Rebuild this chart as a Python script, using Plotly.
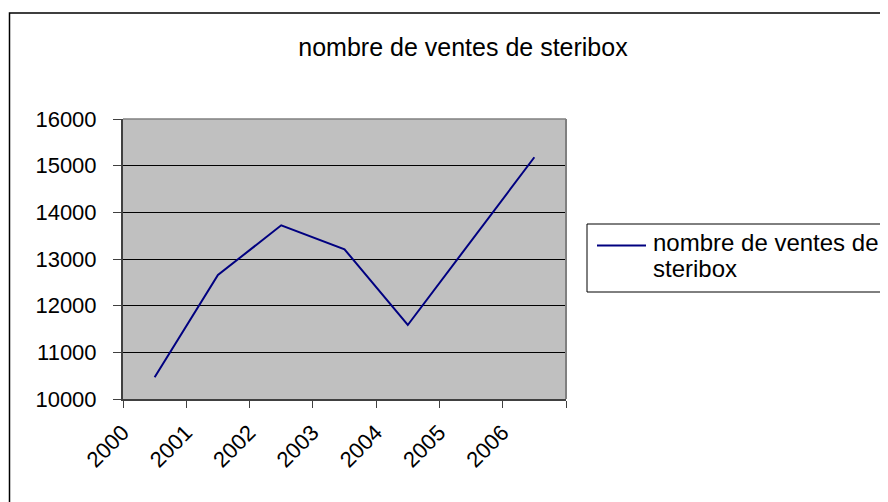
import plotly.graph_objects as go

years = ["2000", "2001", "2002", "2003", "2004", "2005", "2006"]
ventes = [10465, 12657, 13722, 13208, 11586, 13390, 15180]
series_name = "nombre de ventes de steribox"
legend_lines = ["nombre de ventes de", "steribox"]
title_text = "nombre de ventes de steribox"

# page body has an 8px margin: figure pixel = reference pixel - 8
OFF = 8
W, H = 888 - OFF, 502 - OFF
L, R, T, B = 123 - OFF, 566 - OFF, 119 - OFF, 399 - OFF
pw, ph = R - L, B - T

def px(x):
    return (x - OFF - L) / pw

def py(y):
    return (B - (y - OFF)) / ph

FONT = "Liberation Sans, Arial, sans-serif"

fig = go.Figure()
fig.add_trace(go.Scatter(
    x=years, y=ventes, mode="lines", name=series_name,
    line=dict(color="#000080", width=2), showlegend=False,
))

shapes = [
    dict(type="rect", xref="paper", yref="paper",
         x0=px(9.5), x1=px(905), y0=py(13), y1=py(520),
         line=dict(color="black", width=1.5), layer="below"),
    dict(type="line", xref="paper", yref="paper", x0=0, x1=1, y0=1, y1=1,
         line=dict(color="#808080", width=1.5), layer="above"),
    dict(type="line", xref="paper", yref="paper", x0=1, x1=1, y0=0, y1=1,
         line=dict(color="#808080", width=2), layer="above"),
    dict(type="rect", xref="paper", yref="paper",
         x0=px(587), x1=px(905), y0=py(292), y1=py(224),
         line=dict(color="black", width=1), fillcolor="white", layer="below"),
    dict(type="line", xref="paper", yref="paper",
         x0=px(597), x1=px(646), y0=py(245.5), y1=py(245.5),
         line=dict(color="#000080", width=2)),
]

annotations = [
    dict(text=legend_lines[0], xref="paper", yref="paper", x=px(651), y=py(242),
         xanchor="left", yanchor="middle", showarrow=False,
         font=dict(family=FONT, size=24, color="black")),
    dict(text=legend_lines[1], xref="paper", yref="paper", x=px(651), y=py(268),
         xanchor="left", yanchor="middle", showarrow=False,
         font=dict(family=FONT, size=24, color="black")),
]

fig.update_layout(
    width=W, height=H,
    margin=dict(l=L, r=W - R, t=T, b=H - B, pad=0),
    paper_bgcolor="white",
    plot_bgcolor="#C0C0C0",
    title=dict(text=title_text, x=(463 - OFF) / W, y=1 - (47 - OFF) / H,
               xref="container", yref="container", xanchor="center",
               yanchor="middle", font=dict(family=FONT, size=25, color="black")),
    font=dict(family=FONT, size=22, color="black"),
    shapes=shapes,
    annotations=annotations,
    showlegend=False,
)

fig.update_xaxes(
    type="category", range=[-0.5, 6.5], tickson="boundaries",
    ticks="outside", ticklen=7, tickwidth=1, tickcolor="#404040",
    showline=True, linecolor="#404040", linewidth=2,
    showgrid=False, tickangle=-45, tickfont=dict(family=FONT, size=22),
    ticklabelshift=-32, ticklabelstandoff=10,
)
fig.update_yaxes(
    range=[10000, 16000], dtick=1000, tick0=10000, tickformat="d",
    ticks="outside", ticklen=8, tickwidth=1, tickcolor="#404040",
    showline=True, linecolor="#404040", linewidth=2,
    showgrid=True, gridcolor="black", gridwidth=1,
    zeroline=False, tickfont=dict(family=FONT, size=22),
    ticklabelstandoff=12,
)

fig.write_html("out.html")
